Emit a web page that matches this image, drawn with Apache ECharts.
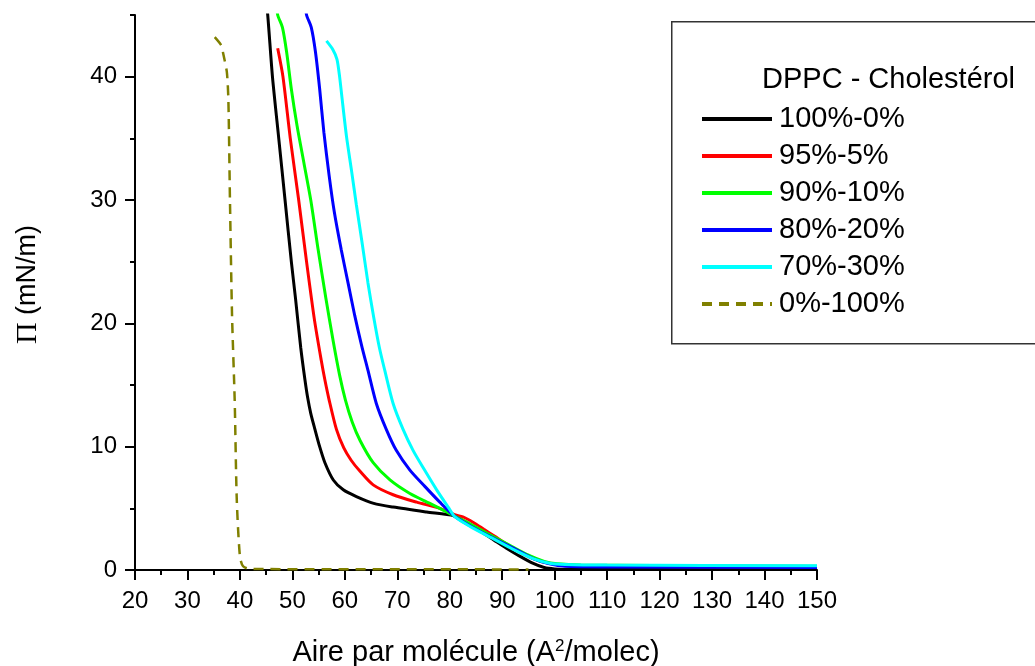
<!DOCTYPE html>
<html>
<head>
<meta charset="utf-8">
<script src="https://cdn.jsdelivr.net/npm/echarts@6/dist/echarts.min.js"></script>
<style>html,body{margin:0;padding:0;background:#fff}#c{width:1035px;height:666px}</style>
</head>
<body>
<div id="c"></div>
<script>
// ---- data ----
const legendTitle = 'DPPC - Cholestérol';
const seriesNames = ['100%-0%', '95%-5%', '90%-10%', '80%-20%', '70%-30%', '0%-100%'];
const seriesColors = ['#000000', '#ff0000', '#00ff00', '#0000ff', '#00ffff', '#808000'];

const x100_0 = [45.0, 45.3, 46.2, 47.4, 48.6, 49.8, 50.6, 51.6, 52.4, 52.9, 53.5, 54.3, 55.2, 56.2, 57.8, 59.7, 62.2, 65.5, 69.2, 75.6, 80.8, 83.0, 86.0, 88.5, 90.8, 93.0, 95.8, 98.0, 100.0, 102.0, 110.0, 150.0];
const y100_0 = [46.0, 45.0, 40.0, 35.0, 30.0, 25.0, 22.0, 18.0, 15.4, 14.0, 12.7, 11.4, 10.0, 8.7, 7.3, 6.5, 5.95, 5.4, 5.1, 4.7, 4.4, 3.9, 3.1, 2.4, 1.76, 1.2, 0.55, 0.2, 0.08, 0.05, 0.04, 0.04];

const x95_5 = [47.2, 48.2, 49.6, 51.2, 52.7, 54.2, 55.5, 56.2, 57.0, 58.4, 59.8, 61.2, 62.9, 65.4, 69.2, 73.7, 78.1, 80.8, 82.5, 84.5, 86.5, 88.5, 91.0, 94.0, 97.0, 99.5, 102.0, 110.0, 150.0];
const y95_5 = [42.3, 40.0, 35.0, 30.0, 25.0, 20.3, 17.0, 15.4, 13.8, 11.4, 9.9, 8.9, 8.0, 6.9, 6.1, 5.5, 5.0, 4.5, 4.3, 3.85, 3.3, 2.75, 2.05, 1.3, 0.75, 0.5, 0.35, 0.3, 0.25];

const x90_10 = [47.0, 47.2, 48.1, 48.9, 49.8, 50.9, 52.2, 53.5, 54.9, 56.4, 57.8, 59.0, 60.1, 61.4, 62.9, 65.4, 68.6, 72.4, 76.2, 79.4, 80.8, 84.0, 87.0, 91.0, 95.0, 98.0, 100.5, 105.0, 150.0];
const y90_10 = [46.0, 45.0, 44.0, 42.0, 39.0, 36.0, 33.0, 30.0, 26.0, 22.0, 18.5, 15.8, 13.8, 12.0, 10.5, 8.7, 7.3, 6.2, 5.4, 4.7, 4.4, 3.7, 3.0, 2.1, 1.2, 0.7, 0.5, 0.4, 0.3];

const x80_20 = [52.5, 52.7, 53.6, 54.4, 55.2, 56.0, 57.0, 58.0, 59.3, 60.6, 61.9, 63.2, 64.4, 66.0, 67.9, 69.8, 72.4, 75.2, 78.1, 80.8, 84.0, 88.0, 92.0, 96.0, 99.0, 102.0, 110.0, 150.0];
const y80_20 = [46.0, 45.0, 44.0, 42.0, 39.0, 35.5, 32.0, 29.0, 26.0, 23.3, 20.6, 18.2, 16.2, 13.5, 11.4, 9.7, 8.1, 6.8, 5.5, 4.4, 3.55, 2.65, 1.8, 0.9, 0.5, 0.3, 0.25, 0.2];

const x70_30 = [56.5, 57.7, 58.5, 59.0, 59.4, 60.3, 61.3, 62.2, 63.3, 64.4, 65.5, 66.6, 67.6, 69.2, 71.1, 73.0, 75.2, 77.5, 79.7, 81.0, 84.0, 88.0, 92.0, 96.0, 99.0, 102.0, 110.0, 150.0];
const y70_30 = [42.9, 42.2, 41.4, 40.0, 38.5, 35.2, 32.3, 29.6, 26.5, 23.3, 20.5, 18.0, 16.2, 13.5, 11.4, 9.7, 8.1, 6.5, 5.1, 4.3, 3.5, 2.6, 1.7, 0.9, 0.55, 0.45, 0.4, 0.35];

const x0_100 = [35.2, 36.5, 36.8, 37.5, 37.8, 38.1, 38.5, 39.0, 39.4, 40.0, 40.6, 42.0, 95.0];
const y0_100 = [43.2, 42.5, 41.9, 40.4, 38.1, 30.0, 20.6, 13.8, 5.7, 1.1, 0.3, 0.08, 0.05];

const xTicks = {min: 20, max: 150, step: 10};
const yTicks = {min: 0, max: 45, major: [0, 10, 20, 30, 40]};

// ---- chart ----
const FONT = 'Liberation Sans, Arial, sans-serif';
function pairs(xs, ys) { return xs.map((x, i) => [x, ys[i]]); }
const allX = [x100_0, x95_5, x90_10, x80_20, x70_30, x0_100];
const allY = [y100_0, y95_5, y90_10, y80_20, y70_30, y0_100];

const chart = echarts.init(document.getElementById('c'), null, {renderer: 'canvas'});
const series = seriesNames.map((name, i) => ({
  name: name,
  type: 'line',
  data: pairs(allX[i], allY[i]),
  showSymbol: false,
  symbol: 'none',
  smooth: 0.25,
  clip: true,
  color: seriesColors[i],
  itemStyle: {color: seriesColors[i]},
  lineStyle: i === 5 ? {width: 2.5, color: seriesColors[i], type: [10, 7]}
                     : {width: 3, color: seriesColors[i], type: 'solid'},
  z: i === 5 ? 1 : 2 + i,
  animation: false
}));

chart.setOption({
  animation: false,
  backgroundColor: '#ffffff',
  grid: {left: 135, right: 218, top: 15, bottom: 96, containLabel: false, outerBoundsMode: 'none'},
  xAxis: {
    type: 'value', min: xTicks.min, max: xTicks.max, interval: xTicks.step,
    name: 'Aire par molécule (A{sup|2}/molec)',
    nameLocation: 'middle', nameGap: 68,
    nameTextStyle: {fontFamily: FONT, fontSize: 29, color: '#000', lineHeight: 30,
      rich: {sup: {fontFamily: FONT, fontSize: 17, color: '#000', verticalAlign: 'top', lineHeight: 14}}},
    axisLine: {show: true, lineStyle: {color: '#000', width: 2}},
    axisTick: {show: true, inside: false, length: 10, lineStyle: {color: '#000', width: 2}},
    minorTick: {show: true, splitNumber: 2, length: 5, lineStyle: {color: '#000', width: 2}},
    axisLabel: {fontFamily: FONT, fontSize: 24, color: '#000', margin: 19},
    splitLine: {show: false}
  },
  yAxis: [{
    type: 'value', min: yTicks.min, max: yTicks.max, interval: 5,
    name: '{pi|Π} (mN/m)', nameLocation: 'middle', nameGap: 92, nameRotate: 90,
    nameTextStyle: {fontFamily: FONT, fontSize: 27, color: '#000', padding: [0, 0, 0, 16],
      rich: {pi: {fontFamily: 'Liberation Serif, Times New Roman, serif', fontSize: 30, color: '#000'}}},
    axisLine: {show: true, lineStyle: {color: '#000', width: 2}},
    axisTick: {show: true, inside: false, length: 5, lineStyle: {color: '#000', width: 2}},
    axisLabel: {fontFamily: FONT, fontSize: 24, color: '#000', margin: 18,
      formatter: v => (yTicks.major.indexOf(v) >= 0 ? String(v) : '')},
    splitLine: {show: false}
  }, {
    type: 'value', min: yTicks.min, max: yTicks.max, interval: 5, position: 'left',
    axisLine: {show: false},
    axisTick: {show: true, inside: false, length: 10, customValues: yTicks.major, lineStyle: {color: '#000', width: 2}},
    axisLabel: {show: false},
    splitLine: {show: false}
  }],
  legend: {
    orient: 'vertical', left: 700, top: 103, padding: 0,
    itemWidth: 70, itemHeight: 14, itemGap: 5,
    data: seriesNames,
    itemStyle: {opacity: 0},
    lineStyle: {width: 4},
    textStyle: {fontFamily: FONT, fontSize: 29, color: '#000', lineHeight: 32, padding: [0, 0, 0, 2]}
  },
  graphic: [
    {type: 'rect', left: 671, top: 21, z: 0,
      shape: {width: 380, height: 322},
      style: {fill: '#fff', stroke: '#333', lineWidth: 1.5}},
    {type: 'text', left: 762, top: 65, z: 10,
      style: {text: legendTitle, font: '29px ' + FONT, fill: '#000'}}
  ],
  series: series
});
</script>
</body>
</html>
